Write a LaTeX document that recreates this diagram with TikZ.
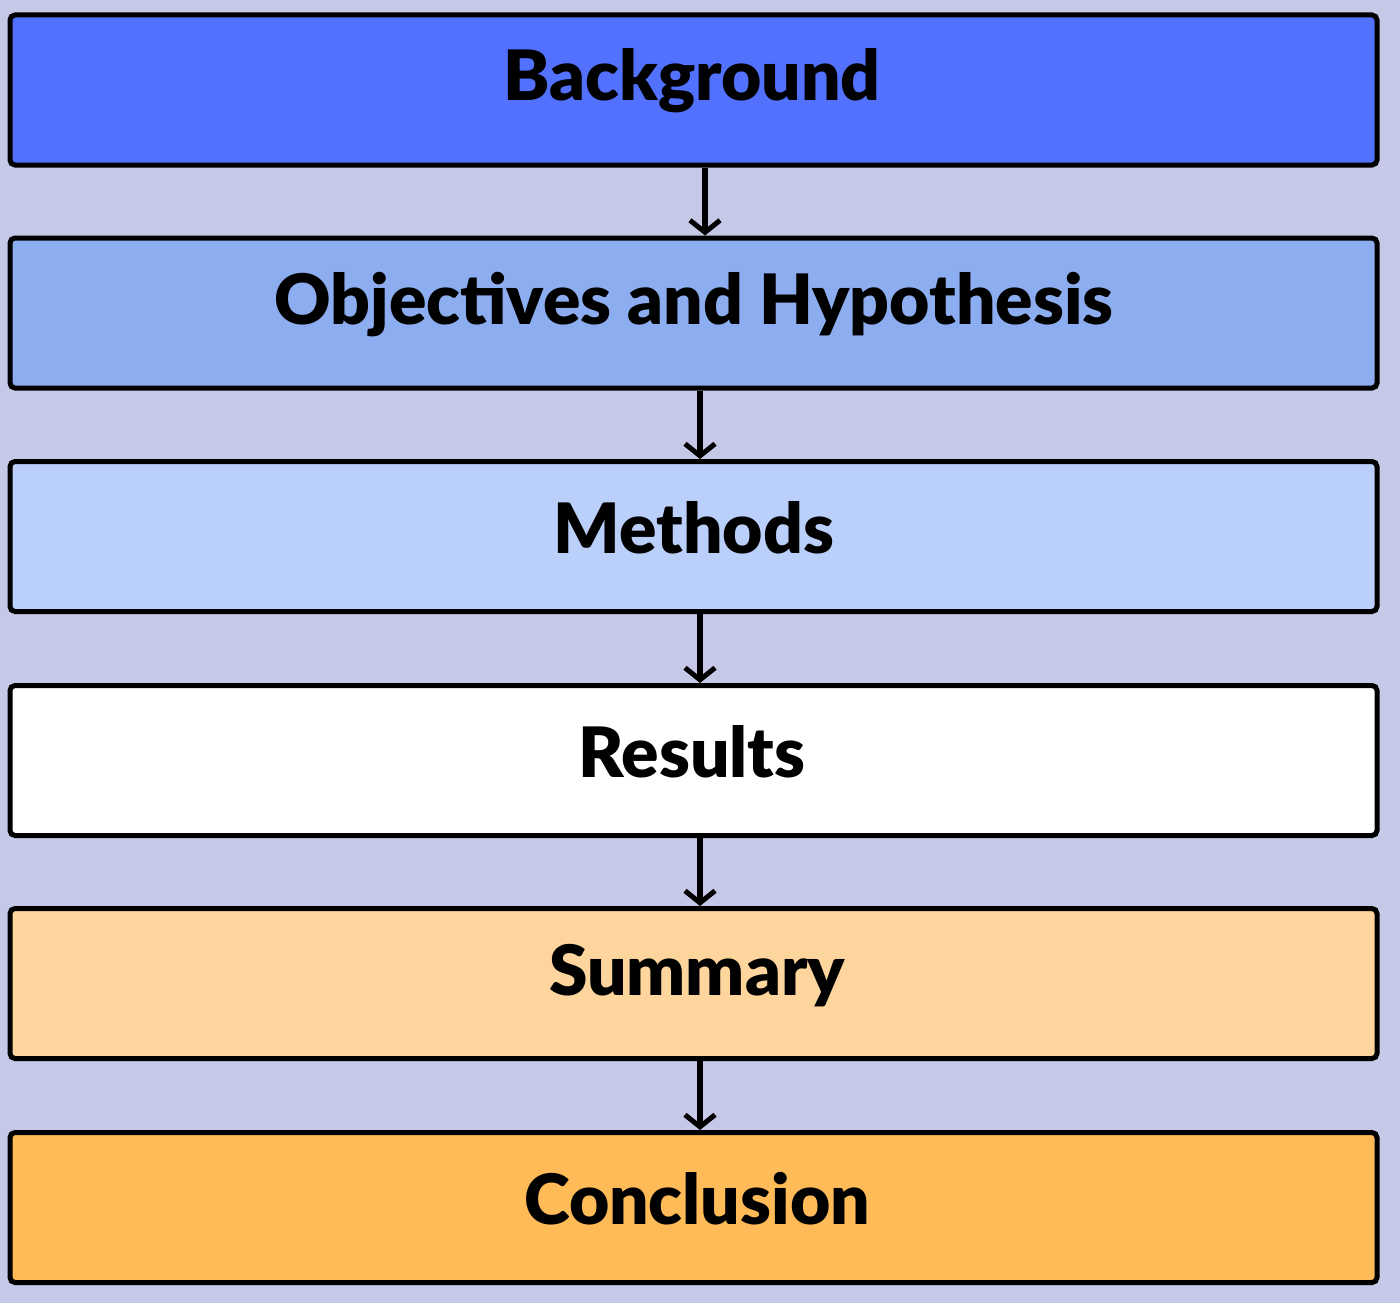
\documentclass[tikz,border=0pt]{standalone}
\usepackage{fontspec}
\setmainfont{Lato}[UprightFont=* Black, BoldFont=* Black]
\usetikzlibrary{arrows.meta}
\definecolor{bgc}{HTML}{C5C8E6}
\definecolor{c1}{HTML}{5271FF}
\definecolor{c2}{HTML}{8CADF0}
\definecolor{c3}{HTML}{BBCFFB}
\definecolor{c4}{HTML}{FFFFFF}
\definecolor{c5}{HTML}{FED59C}
\definecolor{c6}{HTML}{FFBB57}
\begin{document}
\begin{tikzpicture}[x=1pt,y=-1pt,
  stage/.style={draw=black, line width=5pt, rounded corners=5pt, minimum width=1367pt, minimum height=150pt, inner sep=0pt},
  lbl/.style={font=\fontsize{69.5}{80}\selectfont, inner sep=0pt},
  flow/.style={draw=black, line width=5.5pt, -{Straight Barb[length=12pt,width=30pt,line width=5pt]}}]
\fill[bgc] (0,0) rectangle (1400,1303);
\useasboundingbox (0,0) rectangle (1400,1303);
\node[stage, fill=c1] (b1) at (693.5,90) {};
\node[stage, fill=c2] (b2) at (693.5,313) {};
\node[stage, fill=c3] (b3) at (693.5,536.5) {};
\node[stage, fill=c4] (b4) at (693.5,760.5) {};
\node[stage, fill=c5] (b5) at (693.5,983.5) {};
\node[stage, fill=c6] (b6) at (693.5,1207.5) {};
\node[lbl] (t1) at (692,81) {Background};
\node[lbl] (t2) at (694,305) {Objectives and Hypothesis};
\node[lbl] (t3) at (694,528) {Methods};
\node[lbl] (t4) at (692,752) {Results};
\node[lbl] (t5) at (697,976) {Summary};
\node[lbl] (t6) at (697,1199) {Conclusion};
\draw[flow] ([xshift=11.5pt]b1.south) -- ([xshift=11.5pt]b2.north);
\draw[flow] ([xshift=6.5pt]b2.south) -- ([xshift=6.5pt]b3.north);
\draw[flow] ([xshift=6.5pt]b3.south) -- ([xshift=6.5pt]b4.north);
\draw[flow] ([xshift=6.5pt]b4.south) -- ([xshift=6.5pt]b5.north);
\draw[flow] ([xshift=6.5pt]b5.south) -- ([xshift=6.5pt]b6.north);
\end{tikzpicture}
\end{document}
